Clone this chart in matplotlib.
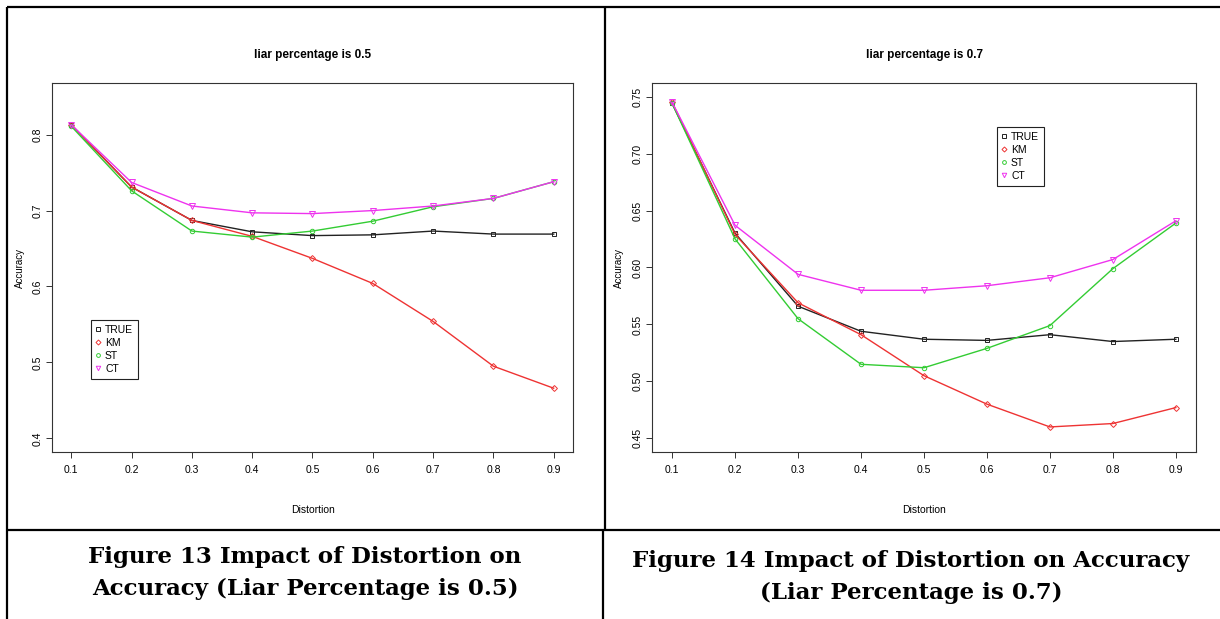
import numpy as np
import matplotlib.pyplot as plt

plt.rcParams['font.family'] = ['Liberation Sans Narrow', 'Liberation Sans', 'DejaVu Sans']

distortion = [0.1, 0.2, 0.3, 0.4, 0.5, 0.6, 0.7, 0.8, 0.9]
names = ["TRUE", "KM", "ST", "CT"]

# liar percentage 0.5
true_05 = [0.813, 0.731, 0.687, 0.672, 0.667, 0.668, 0.673, 0.669, 0.669]
km_05 = [0.813, 0.731, 0.687, 0.666, 0.637, 0.604, 0.554, 0.495, 0.466]
st_05 = [0.811, 0.726, 0.673, 0.665, 0.673, 0.686, 0.705, 0.716, 0.738]
ct_05 = [0.813, 0.737, 0.706, 0.697, 0.696, 0.700, 0.706, 0.716, 0.738]

# liar percentage 0.7
true_07 = [0.744, 0.630, 0.566, 0.544, 0.537, 0.536, 0.541, 0.535, 0.537]
km_07 = [0.745, 0.629, 0.569, 0.541, 0.505, 0.480, 0.460, 0.463, 0.477]
st_07 = [0.744, 0.625, 0.555, 0.515, 0.512, 0.529, 0.549, 0.599, 0.639]
ct_07 = [0.745, 0.637, 0.594, 0.580, 0.580, 0.584, 0.591, 0.607, 0.641]

colors = ["#222222", "#ee3333", "#33cc33", "#ee33ee"]
markers = ["s", "D", "o", "v"]
msizes = [3.4, 3.0, 3.2, 3.8]

W, H = 1220, 619
fig = plt.figure(figsize=(12.2, 6.19), dpi=100)

def box(l, t, r, b):
    return [l / W, 1 - b / H, (r - l) / W, (b - t) / H]

# table frame and captions
bg = fig.add_axes([0, 0, 1, 1])
bg.set_xlim(0, W)
bg.set_ylim(H, 0)
bg.axis("off")
for xs, ys in [([7, W], [7, 7]), ([7, 7], [7, H]), ([605, 605], [7, 530]),
               ([603, 603], [530, H]), ([7, W], [530, 530])]:
    bg.plot(xs, ys, color="black", lw=1.6, solid_capstyle="butt")

cap = dict(family="DejaVu Serif", fontweight="bold", fontsize=16.5, ha="center", va="center")
bg.text(305, 557, "Figure 13 Impact of Distortion on", **cap)
bg.text(305, 589, "Accuracy (Liar Percentage is 0.5)", **cap)
bg.text(911, 561, "Figure 14 Impact of Distortion on Accuracy", **cap)
bg.text(911, 593, "(Liar Percentage is 0.7)", **cap)


def panel(rect, series, ylo, yhi, yticks, ylabels, title, leg_xy, acc_x):
    ax = fig.add_axes(rect)
    for vals, c, m, s, n in zip(series, colors, markers, msizes, names):
        ax.plot(distortion, vals, color=c, lw=1.0, marker=m, ms=s,
                mfc="none", mec=c, mew=0.7, label=n)
    ax.set_xlim(0.1 - 0.04 * 0.8, 0.9 + 0.04 * 0.8)
    ext = 0.04 * (yhi - ylo)
    ax.set_ylim(ylo - ext, yhi + ext)
    ax.set_xticks(distortion)
    ax.set_xticklabels([str(d) for d in distortion])
    ax.set_yticks(yticks)
    ax.set_yticklabels(ylabels, rotation=90, va="center", family="Liberation Sans")
    ax.tick_params(axis="both", direction="out", length=4.3, width=0.7,
                   color="#333333", labelsize=7.5)
    ax.tick_params(axis="x", pad=5)
    ax.tick_params(axis="y", pad=2.5)
    for sp in ax.spines.values():
        sp.set_color("#333333")
        sp.set_linewidth(0.8)
    ax.set_xlabel("Distortion", fontsize=7.5)
    ax.xaxis.set_label_coords(0.5, -0.144)
    ax.set_ylabel("Accuracy", fontsize=7, family="Liberation Sans")
    ax.yaxis.set_label_coords(acc_x, 0.5)
    ax.text(0.5, 1.076, title, transform=ax.transAxes, ha="center", va="center",
            fontsize=8.5, fontweight="bold")
    handles = [plt.Line2D([], [], ls="none", marker=m, ms=s * 0.85, mfc="none", mec=c, mew=0.7)
               for c, m, s in zip(colors, markers, msizes)]
    leg = ax.legend(handles, names, loc="upper left", bbox_to_anchor=(leg_xy[0] / W, 1 - leg_xy[1] / H),
                    bbox_transform=fig.transFigure, borderaxespad=0, fontsize=7.5,
                    handlelength=0.5, handletextpad=0.4, borderpad=0.45, labelspacing=0.3,
                    fancybox=False, framealpha=1)
    leg.get_frame().set_edgecolor("#222222")
    leg.get_frame().set_linewidth(0.8)
    return ax


panel(box(52, 83, 573, 452), [true_05, km_05, st_05, ct_05], 0.4, 0.85,
      [0.4, 0.5, 0.6, 0.7, 0.8], ["0.4", "0.5", "0.6", "0.7", "0.8"],
      "liar percentage is 0.5", (91, 320), -0.052)
panel(box(652, 83, 1196, 452), [true_07, km_07, st_07, ct_07], 0.45, 0.75,
      [0.45, 0.50, 0.55, 0.60, 0.65, 0.70, 0.75],
      ["0.45", "0.50", "0.55", "0.60", "0.65", "0.70", "0.75"],
      "liar percentage is 0.7", (997, 127), -0.051)

fig.savefig("out.png", dpi=100)
